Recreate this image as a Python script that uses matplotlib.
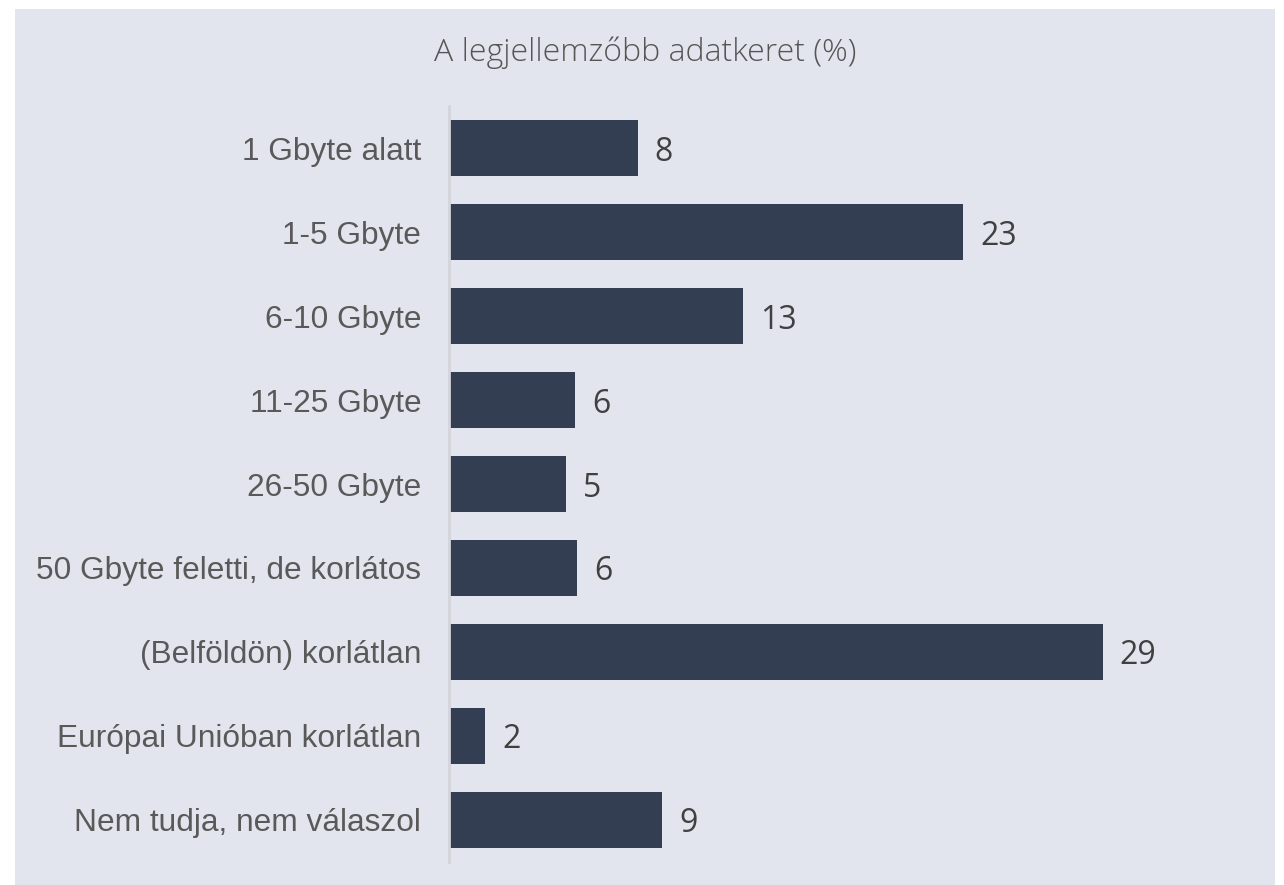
import matplotlib
matplotlib.use("Agg")
import matplotlib.pyplot as plt
from matplotlib.patches import Rectangle

categories = ["1 Gbyte alatt", "1-5 Gbyte", "6-10 Gbyte", "11-25 Gbyte", "26-50 Gbyte",
              "50 Gbyte feletti, de korlátos", "(Belföldön) korlátlan",
              "Európai Unióban korlátlan", "Nem tudja, nem válaszol"]
values = [8.4, 22.9, 13.1, 5.6, 5.2, 5.7, 29.1, 1.6, 9.5]
value_labels = ["8", "23", "13", "6", "5", "6", "29", "2", "9"]
title = "A legjellemzőbb adatkeret (%)"

W, H = 1284, 885
fig = plt.figure(figsize=(W / 100, H / 100), dpi=100, facecolor="white")
bg = Rectangle((15 / W, 0), (1275 - 15) / W, (H - 9) / H, transform=fig.transFigure,
               facecolor="#e2e5ed", edgecolor="none", zorder=-10)
fig.patches.append(bg)

ax = fig.add_axes([449 / W, 1 - 862 / H, 674 / W, (862 - 106) / H])
ax.set_zorder(5)
ax.set_facecolor("none")
y = list(range(len(categories)))
ax.barh(y, values, height=0.667, color="#343e52", zorder=2)
ax.set_ylim(len(categories) - 0.5, -0.5)
ax.set_xlim(0, 30)
for s in ["top", "right", "bottom"]:
    ax.spines[s].set_visible(False)
ax.spines["left"].set_color("#d3d5db")
ax.spines["left"].set_linewidth(2)
ax.set_xticks([])
ax.set_yticks(y)
ax.set_yticklabels(categories, family=["Liberation Sans", "DejaVu Sans"], fontsize=22.8, color="#595959")
ax.tick_params(axis="y", length=0, pad=20)

for yi, v, lab in zip(y, values, value_labels):
    ax.annotate(lab, (v, yi), xytext=(17, -4), textcoords="offset pixels",
                va="center", ha="left", fontsize=23, color="#404040",
                family=["Open Sans", "DejaVu Sans"])

fig.text(645 / W, 1 - 53 / H, title, ha="center", va="center", fontsize=23,
         color="#555555", family=["Open Sans", "DejaVu Sans"], fontweight="light")

fig.savefig("out.png", dpi=100, facecolor="white")
